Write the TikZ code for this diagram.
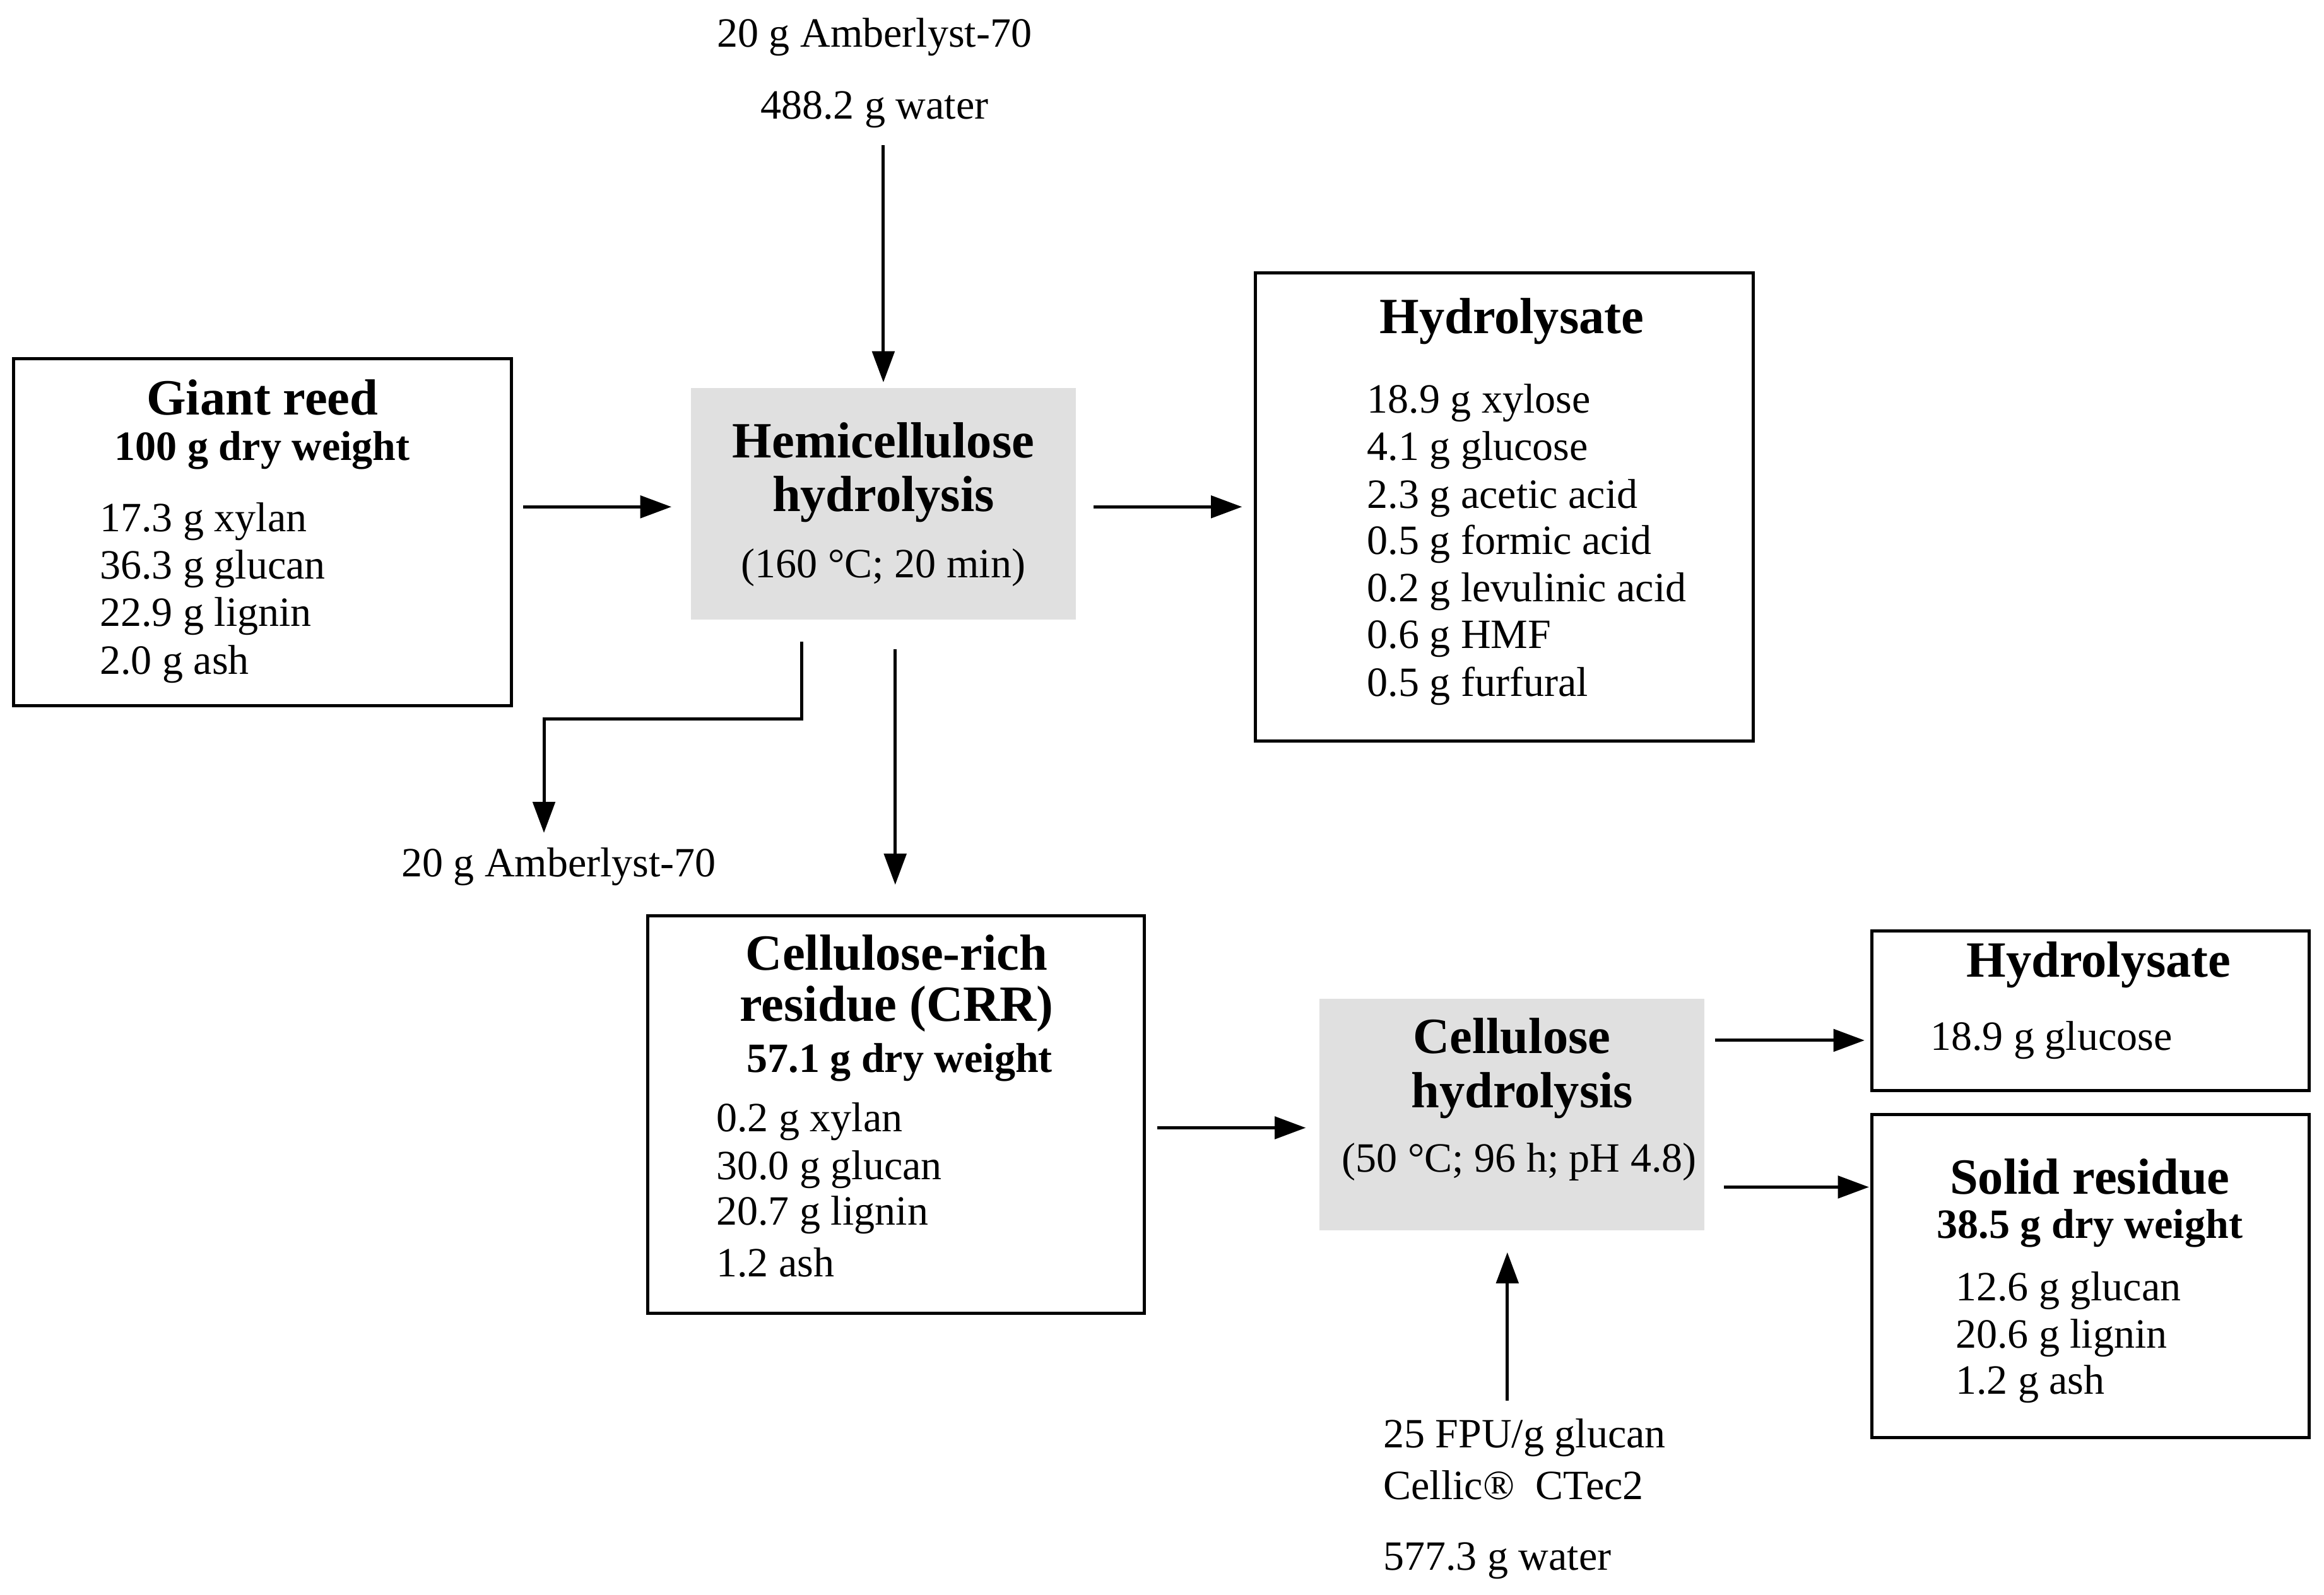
\documentclass[tikz,border=0pt]{standalone}
\usepackage{fontspec}
\setmainfont{Liberation Serif}
\usetikzlibrary{arrows.meta}
\begin{document}
\begin{tikzpicture}[x=0.02cm,y=-0.02cm,
 box/.style={draw,line width=1.2pt},
 gbox/.style={fill=black!12},
 t/.style={font=\fontsize{16}{19}\selectfont,inner sep=0pt},
 tl/.style={t,anchor=west},
 ttl/.style={font=\fontsize{19.5}{23}\selectfont\bfseries,inner sep=0pt},
 tb/.style={font=\fontsize{16}{19}\selectfont\bfseries,inner sep=0pt},
 arr/.style={line width=1.2pt,-{Triangle[length=0.42cm,width=0.3cm]}}]
\useasboundingbox (0,0) rectangle (1568,1076);
% Giant reed
\draw[box] (9,242) rectangle (345,476);
\node[ttl] (gr) at (177,268) {Giant reed};
\node[tb] at (177,304) {100 g dry weight};
\node[tl] at (67,352) {17.3 g xylan};
\node[tl] at (67,384) {36.3 g glucan};
\node[tl] at (67,416) {22.9 g lignin};
\node[tl] at (67,448) {2.0 g ash};
% Hemicellulose
\fill[gbox] (466,262) rectangle (726,418);
\node[ttl] at (596,297) {Hemicellulose};
\node[ttl] at (596,337) {hydrolysis};
\node[t] at (596,383) {(160 °C; 20 min)};
\node[t] (in1) at (590,25) {20 g Amberlyst-70};
\node[t] (in2) at (590,74) {488.2 g water};
\coordinate (a1s) at (596,98); \coordinate (a1e) at (596,258);
\draw[arr] (a1s) -- (a1e);
\coordinate (a2s) at (353,342); \coordinate (a2e) at (453,342);
\draw[arr] (a2s) -- (a2e);
\coordinate (a3s) at (738,342); \coordinate (a3e) at (838,342);
\draw[arr] (a3s) -- (a3e);
% Hydrolysate 1
\draw[box] (847,184) rectangle (1183,500);
\node[ttl] at (1020,217) {Hydrolysate};
\foreach \y/\s in {272/18.9 g xylose,304/4.1 g glucose,336/2.3 g acetic acid,367/0.5 g formic acid,399/0.2 g levulinic acid,431/0.6 g HMF,463/0.5 g furfural}
 \node[tl] at (922,\y) {\s};
% elbow
\coordinate (e1) at (541,433); \coordinate (e2) at (367,562);
\draw[arr] (e1) -- (541,485) -- (367,485) -- (e2);
\node[t] (am) at (377,585) {20 g Amberlyst-70};
\coordinate (a4s) at (604,438); \coordinate (a4e) at (604,597);
\draw[arr] (a4s) -- (a4e);
% CRR
\draw[box] (437,618) rectangle (772,886);
\node[ttl] at (605,643) {Cellulose-rich};
\node[ttl] at (605,681) {residue (CRR)};
\node[tb] at (607,717) {57.1 g dry weight};
\foreach \y/\s in {757/0.2 g xylan,789/30.0 g glucan,820/20.7 g lignin,852/1.2 ash}
 \node[tl] at (483,\y) {\s};
\coordinate (a5s) at (781,761); \coordinate (a5e) at (881,761);
\draw[arr] (a5s) -- (a5e);
% Cellulose hydrolysis
\fill[gbox] (890,674) rectangle (1150,830);
\node[ttl] at (1020,699) {Cellulose};
\node[ttl] at (1027,739) {hydrolysis};
\node[t] at (1025,784) {(50 °C; 96 h; pH 4.8)};
\coordinate (a6s) at (1017,945); \coordinate (a6e) at (1017,845);
\draw[arr] (a6s) -- (a6e);
\node[tl] at (933,970) {25 FPU/g glucan};
\node[tl] at (933,1002) {Cellic®\ \ CTec2};
\node[tl] at (933,1053) {577.3 g water};
\coordinate (a7s) at (1157,702); \coordinate (a7e) at (1258,702);
\draw[arr] (a7s) -- (a7e);
\coordinate (a8s) at (1163,801); \coordinate (a8e) at (1261,801);
\draw[arr] (a8s) -- (a8e);
% Hydrolysate 2
\draw[box] (1263,628) rectangle (1558,736);
\node[ttl] at (1416,651) {Hydrolysate};
\node[tl] at (1302,702) {18.9 g glucose};
% Solid residue
\draw[box] (1263,752) rectangle (1558,970);
\node[ttl] at (1410,794) {Solid residue};
\node[tb] at (1410,829) {38.5 g dry weight};
\foreach \y/\s in {871/12.6 g glucan,903/20.6 g lignin,934/1.2 g ash}
 \node[tl] at (1319,\y) {\s};
\end{tikzpicture}
\end{document}
